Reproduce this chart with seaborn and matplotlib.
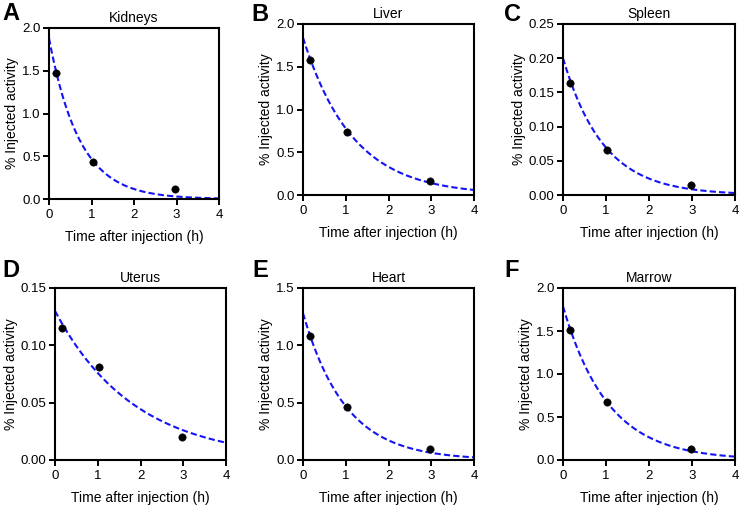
import numpy as np
import pandas as pd
import seaborn as sns
import matplotlib.pyplot as plt

# measured points (time in h, % injected activity)
organs = ["Kidneys", "Liver", "Spleen", "Uterus", "Heart", "Marrow"]
letters = ["A", "B", "C", "D", "E", "F"]
times = [0.17, 1.03, 2.97]
kidneys = [1.47, 0.43, 0.12]
liver = [1.58, 0.74, 0.163]
spleen = [0.164, 0.066, 0.0145]
uterus = [0.115, 0.081, 0.0198]
heart = [1.083, 0.46, 0.096]
marrow = [1.51, 0.672, 0.128]

# one-phase decay fit shown on each panel: y = y0 * exp(-k t)
fit_y0 = [1.88, 1.84, 0.200, 0.130, 1.28, 1.786]
fit_k = [1.39, 0.86, 1.06, 0.538, 1.005, 0.956]

y_max = [2.0, 2.0, 0.25, 0.15, 1.5, 2.0]
y_step = [0.5, 0.5, 0.05, 0.05, 0.5, 0.5]
y_fmt = ["%.1f", "%.1f", "%.2f", "%.2f", "%.1f", "%.1f"]

# axes boxes in pixels: left, top, right, bottom
boxes = [(49, 28, 219, 199), (303, 24, 474, 195), (563, 24, 735, 195),
         (55, 288, 226, 460), (303, 288, 474, 460), (563, 288, 735, 460)]
# panel letter top-left corners in pixels
letter_pos = [(2, 2), (251, 3), (504, 3), (2, 259), (252, 259), (504, 259)]

sns.set_theme(style="ticks")
plt.rcParams["font.family"] = ["Liberation Sans", "DejaVu Sans"]
plt.rcParams["text.color"] = "black"
plt.rcParams["axes.labelcolor"] = "black"
plt.rcParams["xtick.color"] = "black"
plt.rcParams["ytick.color"] = "black"

W, H = 740, 509
fig = plt.figure(figsize=(W / 100, H / 100), dpi=100)

values = [kidneys, liver, spleen, uterus, heart, marrow]
t_grid = np.linspace(0, 4, 200)

for i, organ in enumerate(organs):
    l, t, r, b = boxes[i]
    ax = fig.add_axes([l / W, 1 - b / H, (r - l) / W, (b - t) / H])

    pts = pd.DataFrame({"time": times, "activity": values[i]})
    curve = pd.DataFrame({"time": t_grid,
                          "activity": fit_y0[i] * np.exp(-fit_k[i] * t_grid)})

    sns.lineplot(data=curve, x="time", y="activity", ax=ax, color="#1414f5",
                 linewidth=1.5, zorder=2)
    ax.lines[-1].set_dashes([3, 1.5])
    sns.scatterplot(data=pts, x="time", y="activity", ax=ax, color="black",
                    s=28, edgecolor="black", zorder=3, clip_on=False)

    ax.set_xlim(0, 4)
    ax.set_ylim(0, y_max[i])
    ax.set_xticks([0, 1, 2, 3, 4])
    ax.set_yticks(np.arange(0, y_max[i] + y_step[i] / 2, y_step[i]))
    ax.yaxis.set_major_formatter(plt.FormatStrFormatter(y_fmt[i]))
    ax.tick_params(labelsize=9.5, length=4, width=1.4, color="black",
                   labelcolor="black", pad=2)
    ax.tick_params(axis="x", pad=3)
    for sp in ax.spines.values():
        sp.set_linewidth(1.5)
        sp.set_color("black")
    ax.set_title(organ, fontsize=10, pad=4, color="black")
    ax.set_xlabel("Time after injection (h)", fontsize=10, labelpad=7)
    ax.set_ylabel("% Injected activity", fontsize=10, labelpad=2)

    lx, ly = letter_pos[i]
    fig.text(lx / W, 1 - ly / H, letters[i], fontsize=17, fontweight="bold",
             va="top", ha="left", color="black")

fig.savefig("out.png", dpi=100)
